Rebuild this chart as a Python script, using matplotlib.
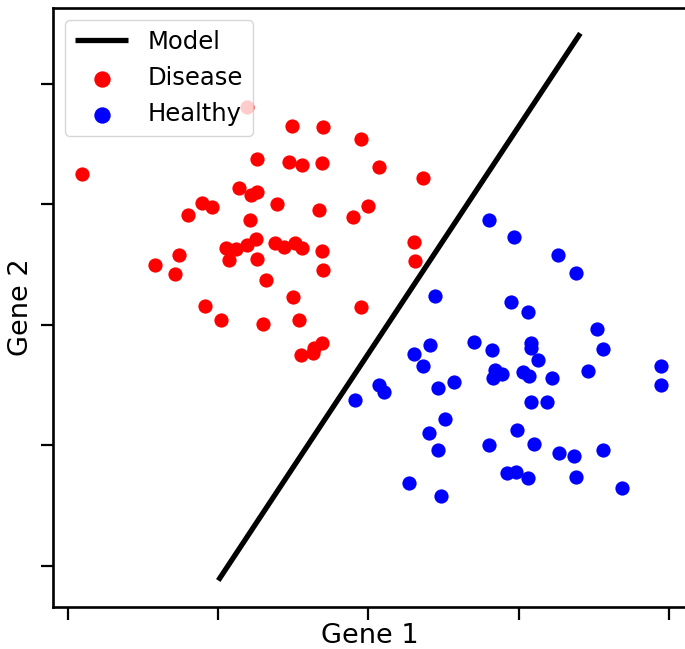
import matplotlib
matplotlib.use("Agg")
import matplotlib.pyplot as plt
import numpy as np

# Data
disease_x = [0.09, 1.19, 1.49, 1.70, 1.95, 1.26, 1.47, 1.56, 1.69, 2.07,
             2.36, 1.14, 1.22, 1.26, 0.89, 0.96, 0.80, 1.39, 1.67, 1.90,
             2.00, 1.21, 1.05, 1.12, 1.19, 1.25, 1.07, 1.26, 1.38, 1.44,
             1.51, 1.56, 1.69, 1.70, 2.30, 2.31, 0.58, 0.74, 0.71, 1.32,
             1.50, 0.91, 1.02, 1.30, 1.54, 1.95, 1.69, 1.64, 1.63, 1.55]
disease_y = [3.25, 3.81, 3.65, 3.64, 3.54, 3.38, 3.35, 3.33, 3.34, 3.31,
             3.22, 3.14, 3.08, 3.10, 3.01, 2.98, 2.91, 3.00, 2.95, 2.90,
             2.99, 2.87, 2.64, 2.63, 2.66, 2.71, 2.54, 2.55, 2.68, 2.65,
             2.68, 2.64, 2.61, 2.46, 2.69, 2.53, 2.50, 2.58, 2.42, 2.37,
             2.23, 2.16, 2.04, 2.01, 2.04, 2.15, 1.85, 1.81, 1.77, 1.75]

healthy_x = [2.80, 2.97, 3.26, 3.38, 2.44, 2.95, 3.06, 3.52, 3.56, 2.41,
             2.30, 2.36, 2.70, 2.82, 3.08, 3.08, 3.13, 2.84, 2.89, 2.83,
             3.03, 3.07, 3.22, 3.46, 3.95, 3.95, 2.07, 2.10, 1.91, 2.46,
             2.57, 3.08, 3.19, 2.51, 2.40, 2.46, 2.99, 2.80, 3.10, 3.27,
             3.37, 3.56, 2.92, 2.98, 3.06, 3.38, 3.69, 2.27, 2.48]
healthy_y = [2.87, 2.73, 2.58, 2.43, 2.24, 2.19, 2.11, 1.97, 1.80, 1.83,
             1.76, 1.66, 1.86, 1.79, 1.85, 1.81, 1.71, 1.63, 1.59, 1.56,
             1.61, 1.58, 1.56, 1.62, 1.66, 1.50, 1.50, 1.44, 1.38, 1.48,
             1.53, 1.36, 1.36, 1.22, 1.10, 0.96, 1.13, 1.00, 1.01, 0.94,
             0.91, 0.96, 0.77, 0.78, 0.73, 0.74, 0.65, 0.69, 0.58]

model_x = [1.00, 3.41]
model_y = [-0.12, 4.42]

x_ticks = [0, 1, 2, 3, 4]
y_ticks = [0, 1, 2, 3, 4]

fig = plt.figure(figsize=(6.85, 6.49), dpi=100)
W, H = 685, 649
ax = fig.add_axes([53 / W, (H - 607) / H, (687 - 53) / W, (607 - 8) / H])

ax.plot(model_x, model_y, color="black", lw=3.8, label="Model", zorder=3,
        solid_capstyle="butt")
ax.scatter(disease_x, disease_y, s=105, color="red", linewidths=0,
           label="Disease", zorder=2)
ax.scatter(healthy_x, healthy_y, s=105, color="blue", linewidths=0,
           label="Healthy", zorder=2)

ax.set_xlim(-0.1, 4.12)
ax.set_ylim(-0.34, 4.63)
ax.set_xticks(x_ticks)
ax.set_yticks(y_ticks)
ax.set_xticklabels([])
ax.set_yticklabels([])
ax.tick_params(direction="out", length=9, width=1.6)
for sp in ax.spines.values():
    sp.set_linewidth(1.9)

ax.set_xlabel("Gene 1", fontsize=19.5, labelpad=-1)
ax.set_ylabel("Gene 2", fontsize=19.5, labelpad=1)

leg = ax.legend(loc="upper left", fontsize=17.5, handlelength=2.2,
                borderaxespad=0.5, framealpha=0.8, markerscale=1.15)
leg.set_zorder(5)

fig.savefig("out.png", dpi=100)
